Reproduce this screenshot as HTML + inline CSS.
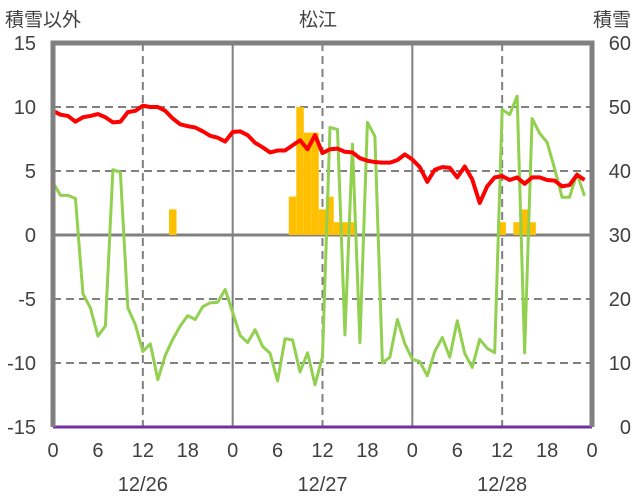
<!DOCTYPE html>
<html><head><meta charset="utf-8"><style>
html,body{margin:0;padding:0;background:#fff;}
svg{display:block;font-family:"Liberation Sans","Noto Sans CJK JP",sans-serif;}
</style></head><body>
<svg id="chart" width="636" height="501" viewBox="0 0 636 501">
<text x="5" y="26" font-size="19" fill="#404040">積雪以外</text>
<text x="318" y="26" font-size="19" fill="#404040" text-anchor="middle">松江</text>
<text x="631" y="26" font-size="19" fill="#404040" text-anchor="end">積雪</text>
<g id="grid"></g>
<g id="bars"></g>
<g id="lines"></g>
<g id="frame"></g>
<g id="labels"></g>
</svg>
<script>
const hours = Array.from({length:72},(_,i)=>i);
const tempValues = [9.7,9.4,9.3,8.85,9.2,9.3,9.45,9.2,8.8,8.85,9.6,9.7,10.1,10.0,10.0,9.7,9.1,8.65,8.5,8.4,8.1,7.75,7.6,7.3,8.05,8.1,7.8,7.2,6.85,6.45,6.6,6.6,7.0,7.4,6.7,7.8,6.4,6.7,6.75,6.5,6.45,6.0,5.8,5.7,5.65,5.65,5.85,6.3,5.9,5.3,4.15,5.1,5.3,5.25,4.5,5.35,4.35,2.5,3.8,4.5,4.6,4.3,4.5,4.0,4.5,4.5,4.3,4.25,3.8,3.9,4.7,4.3];
const greenValues = [4.1,3.1,3.1,2.85,-4.6,-5.7,-7.9,-7.1,5.1,4.9,-5.7,-7.0,-9.1,-8.5,-11.3,-9.4,-8.15,-7.1,-6.3,-6.6,-5.6,-5.3,-5.25,-4.25,-6.05,-7.85,-8.4,-7.4,-8.7,-9.25,-11.4,-8.1,-8.2,-10.7,-9.2,-11.7,-9.5,8.4,8.25,-7.8,7.1,-8.4,8.8,7.7,-10.0,-9.55,-6.6,-8.5,-9.7,-9.9,-11.0,-9.1,-8.0,-9.55,-6.7,-9.25,-10.35,-8.15,-8.85,-9.2,9.8,9.4,10.85,-9.2,9.1,7.95,7.25,5.2,2.95,2.95,4.8,3.05];
const snowfallHours = [16,32,33,34,35,36,37,38,39,40,60,62,63,64];
const snowfallValues = [2,3,10,8,8,2,3,1,1,1,1,1,2,1];
const snowDepthValues = Array(73).fill(0);
const leftTicks = [15,10,5,0,-5,-10,-15];
const rightTicks = [60,50,40,30,20,10,0];
const xTickHours = [0,6,12,18,24,30,36,42,48,54,60,66,72];
const xTickLabels = ["0","6","12","18","0","6","12","18","0","6","12","18","0"];
const dateHours = [12,36,60];
const dateLabels = ["12/26","12/27","12/28"];

const X0=53,X1=592,Y0=43,Y1=427;
const xs=h=>X0+(X1-X0)*h/72;
const yL=v=>Y0+(15-v)*(Y1-Y0)/30;
const yR=v=>Y0+(60-v)*(Y1-Y0)/60;
const NS="http://www.w3.org/2000/svg";
function mk(tag,parent,attrs){const e=document.createElementNS(NS,tag);for(const k in attrs)e.setAttribute(k,attrs[k]);document.getElementById(parent).appendChild(e);return e;}

[10,5,-5,-10].forEach(v=>{
  const l=mk('line','grid',{x1:X0,x2:X1,y1:yL(v),y2:yL(v),stroke:'#808080','stroke-width':2,'stroke-dasharray':'8,5'});
  
  
});
[12,36,60].forEach(h=>{
  const l=mk('line','grid',{x1:xs(h),x2:xs(h),y1:Y0,y2:Y1,stroke:'#808080','stroke-width':2,'stroke-dasharray':'8,5'});
  
  
});
[24,48].forEach(h=>{
  const l=mk('line','grid',{x1:xs(h),x2:xs(h),y1:Y0,y2:Y1,stroke:'#808080','stroke-width':2});
  
  
});

const bw=(X1-X0)/72;
snowfallHours.forEach((h,i)=>{
  const v=snowfallValues[i];
  const r=mk('rect','bars',{x:xs(h)-bw/2,y:yL(v),width:bw,height:yL(0)-yL(v),fill:'#ffc000'});
  
  
});

const z=mk('line','grid',{x1:X0,x2:X1,y1:yL(0),y2:yL(0),stroke:'#808080','stroke-width':3});



function pl(vals,fy,color,w,name){
  const p=mk('polyline','lines',{points:vals.map((v,i)=>xs(i)+','+fy(v)).join(' '),fill:'none',stroke:color,'stroke-width':w,'stroke-linejoin':'round'});
  
  
}
pl(greenValues,yL,'#92d050',3,'green-series-line');
pl(tempValues,yL,'#ff0000',4,'temperature-line');

const f=mk('path','frame',{d:`M${X0} ${Y1} L${X0} ${Y0} L${X1} ${Y0} L${X1} ${Y1}`,fill:'none',stroke:'#808080','stroke-width':5});


pl(snowDepthValues,yR,'#7030a0',3,'snow-depth-line');

leftTicks.forEach(v=>{
  const t=mk('text','labels',{x:36,y:yL(v)+7,'font-size':20,fill:'#404040','text-anchor':'end'});
  t.textContent=v;
  
  
});
rightTicks.forEach(v=>{
  const t=mk('text','labels',{x:631,y:yR(v)+7,'font-size':20,fill:'#404040','text-anchor':'end'});
  t.textContent=v;
  
  
});
xTickHours.forEach((h,i)=>{
  const t=mk('text','labels',{x:xs(h),y:457,'font-size':20,fill:'#404040','text-anchor':'middle'});
  t.textContent=xTickLabels[i];
  
  
});
dateHours.forEach((h,i)=>{
  const t=mk('text','labels',{x:xs(h),y:491,'font-size':20,fill:'#404040','text-anchor':'middle'});
  t.textContent=dateLabels[i];
  
  
});
</script>
</body></html>
